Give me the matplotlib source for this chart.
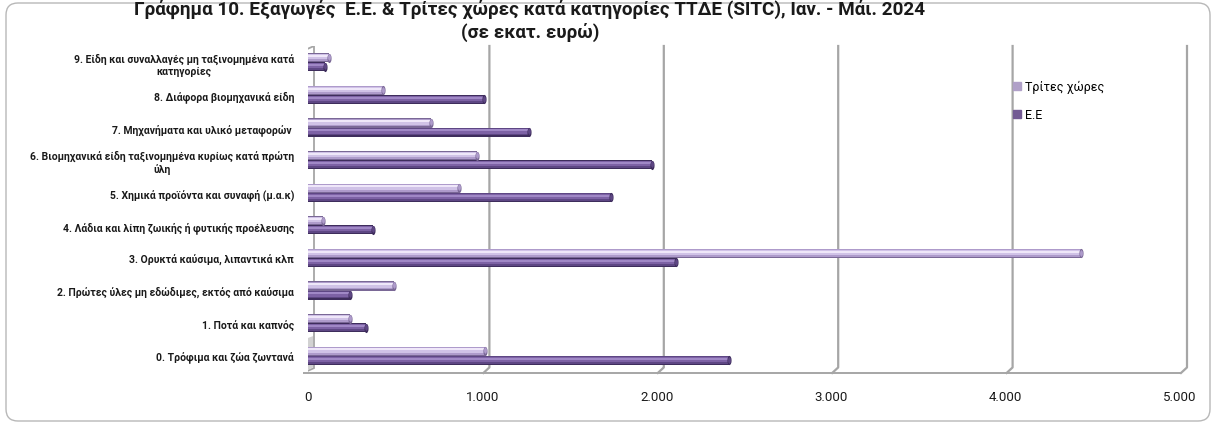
import matplotlib
matplotlib.use("Agg")
import matplotlib.pyplot as plt
import matplotlib.transforms as mtransforms
from matplotlib.patches import FancyBboxPatch, Rectangle, Polygon
from matplotlib.path import Path
import numpy as np

plt.rcParams['font.family'] = ['Roboto', 'DejaVu Sans']

categories = [
    "0. Τρόφιμα και ζώα ζωντανά",
    "1. Ποτά και καπνός",
    "2. Πρώτες ύλες μη εδώδιμες, εκτός από καύσιμα",
    "3. Ορυκτά καύσιμα, λιπαντικά κλπ",
    "4. Λάδια και λίπη ζωικής ή φυτικής προέλευσης",
    "5. Χημικά προϊόντα και συναφή (μ.α.κ)",
    "6. Βιομηχανικά είδη ταξινομημένα κυρίως κατά πρώτη\nύλη",
    "7. Μηχανήματα και υλικό μεταφορών ",
    "8. Διάφορα βιομηχανικά είδη",
    "9. Είδη και συναλλαγές μη ταξινομημένα κατά\nκατηγορίες",
]
third_countries = [1015, 240, 495, 4430, 85, 865, 970, 705, 430, 120]
eu = [2415, 335, 240, 2110, 375, 1735, 1970, 1265, 1010, 100]
xticks = [0, 1000, 2000, 3000, 4000, 5000]
xtick_labels = ["0", "1.000", "2.000", "3.000", "4.000", "5.000"]
series_names = ["Τρίτες χώρες", "Ε.Ε"]
title = ("Γράφημα 10. Εξαγωγές  Ε.Ε. & Τρίτες χώρες κατά κατηγορίες ΤΤΔΕ (SITC), Ιαν. - Μάι. 2024\n"
         "(σε εκατ. ευρώ)")

W, H = 1217, 427
fig = plt.figure(figsize=(W / 100, H / 100), dpi=100)

# outer rounded border
bg = fig.add_axes([0, 0, 1, 1])
bg.set_xlim(0, W)
bg.set_ylim(H, 0)
bg.axis('off')
bg.add_patch(FancyBboxPatch((6, 4), 1204, 418, boxstyle="round,pad=0,rounding_size=12",
                            fc='white', ec='#b8b8b8', lw=1.0))

ax = fig.add_axes([308 / W, 1 - 373 / H, 872 / W, 326 / H])
ax.set_xlim(0, 5000)
ax.set_ylim(-0.5, 9.5)
ax.patch.set_alpha(0)
for s in ax.spines.values():
    s.set_visible(False)

blend = mtransforms.blended_transform_factory(ax.transData, ax.transAxes)
px = 5000 / 872.0  # data units per pixel
back = 7 * px
wall = 5 * px
grid_col = '#a6a6a6'

# left side wall
ax.add_patch(Polygon([(-wall, 0.985), (back - px, 1.0), (back - px, 0.012), (-wall, -0.003)],
                     closed=True, transform=blend, fc='white', ec=grid_col, lw=1.3, zorder=1))
ax.add_patch(Polygon([(-wall + px, 0.10), (back - 2 * px, 0.11), (back - 2 * px, 0.014), (-wall + px, 0.0)],
                     closed=True, transform=blend, fc='#d2d2d2', ec='none', lw=0, zorder=1))
# floor front edge
ax.plot([-wall, xticks[-1] + px], [-0.003, -0.003], transform=blend, color=grid_col, lw=1.4,
        zorder=1, clip_on=False, solid_capstyle='butt')
# gridlines (back wall) with slant at floor
for t in xticks[1:]:
    ax.plot([t + back, t + back, t + px], [1.0, 0.014, -0.003], transform=blend,
            color=grid_col, lw=1.6, zorder=1, clip_on=False)

# cylinder-like bars
h = 0.28
ellipse = Path.unit_circle().transformed(mtransforms.Affine2D().scale(0.45, 1.0))


def cyl(yc, vals, outline, dark, mid, light):
    ax.barh(yc, vals, height=h, color=outline, lw=0, zorder=3)
    ax.barh(yc + h * 0.03, vals, height=h * 0.8, color=dark, lw=0, zorder=3)
    ax.barh(yc + h * 0.1, vals, height=h * 0.55, color=mid, lw=0, zorder=3)
    ax.barh(yc + h * 0.18, vals, height=h * 0.22, color=light, lw=0, zorder=3)
    ax.scatter(vals, yc, marker=ellipse, s=(h * 32.7 / 1.389) ** 2, color=outline, zorder=4, lw=0)
    ax.scatter(vals, yc + h * 0.08, marker=ellipse, s=(h * 0.7 * 32.7 / 1.389) ** 2, color=dark,
               zorder=4, lw=0)


y = np.arange(len(categories))
cyl(y + h / 2, third_countries, '#7a6896', '#ae9bcb', '#d0c2e7', '#efe7f9')
cyl(y - h / 2, eu, '#3e2d5c', '#5e4784', '#7d62a5', '#a088c6')

ax.set_yticks(y)
ax.set_yticklabels(categories, fontsize=7.5, fontweight='bold', color='#1a1a1a')
for lbl in ax.get_yticklabels():
    lbl.set_multialignment('center')
ax.set_xticks(xticks)
ax.set_xticklabels(xtick_labels, fontsize=9.5, color='#1a1a1a')
ax.tick_params(axis='y', length=0, pad=10)
ax.tick_params(axis='x', length=0, pad=13)

# legend
handles = [Rectangle((0, 0), 1, 1, color='#b0a0c8'), Rectangle((0, 0), 1, 1, color='#735a94')]
fig.legend(handles, series_names, loc='upper left', bbox_to_anchor=(1013 / W, 1 - 81 / H),
           frameon=False, fontsize=9, handlelength=0.6, handleheight=0.6, handletextpad=0.35,
           labelspacing=1.2, borderaxespad=0, borderpad=0)

fig.text(530 / W, 1 - 0 / H, title, ha='center', va='top', fontsize=13.6, fontweight='bold',
         color='#1a1a1a', linespacing=1.25)

fig.savefig("out.png", dpi=100)
